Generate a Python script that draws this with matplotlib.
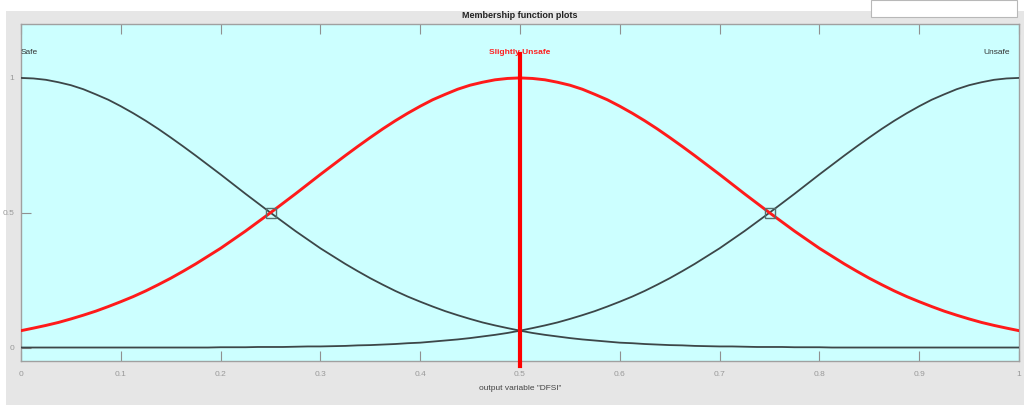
import matplotlib
matplotlib.use("Agg")
import matplotlib.pyplot as plt
from matplotlib.patches import Rectangle

# ---- data (x step 0.0125) ----
x_vals = [i / 80 for i in range(81)]

safe = [1.000, 0.998, 0.993, 0.984, 0.973, 0.958, 0.939, 0.919, 0.895, 0.869,
        0.841, 0.811, 0.779, 0.746, 0.712, 0.677, 0.642, 0.606, 0.570, 0.535,
        0.500, 0.466, 0.432, 0.400, 0.368, 0.339, 0.310, 0.283, 0.257, 0.233,
        0.210, 0.189, 0.170, 0.152, 0.135, 0.120, 0.106, 0.093, 0.082, 0.072,
        0.0625, 0.054, 0.047, 0.041, 0.035, 0.030, 0.026, 0.022, 0.018, 0.016,
        0.013, 0.011, 0.009, 0.008, 0.006, 0.005, 0.004, 0.004, 0.003, 0.002,
        0.002, 0.002, 0.001, 0.001, 0.001, 0.000, 0.000, 0.000, 0.000, 0.000,
        0.000, 0.000, 0.000, 0.000, 0.000, 0.000, 0.000, 0.000, 0.000, 0.000, 0.000]

slightly_unsafe = [0.0625, 0.072, 0.082, 0.093, 0.106, 0.120, 0.135, 0.152, 0.170, 0.189,
                   0.210, 0.233, 0.257, 0.283, 0.310, 0.339, 0.368, 0.400, 0.432, 0.466,
                   0.500, 0.535, 0.570, 0.606, 0.642, 0.677, 0.712, 0.746, 0.779, 0.811,
                   0.841, 0.869, 0.895, 0.919, 0.939, 0.958, 0.973, 0.984, 0.993, 0.998,
                   1.000, 0.998, 0.993, 0.984, 0.973, 0.958, 0.939, 0.919, 0.895, 0.869,
                   0.841, 0.811, 0.779, 0.746, 0.712, 0.677, 0.642, 0.606, 0.570, 0.535,
                   0.500, 0.466, 0.432, 0.400, 0.368, 0.339, 0.310, 0.283, 0.257, 0.233,
                   0.210, 0.189, 0.170, 0.152, 0.135, 0.120, 0.106, 0.093, 0.082, 0.072, 0.0625]

unsafe = [0.000, 0.000, 0.000, 0.000, 0.000, 0.000, 0.000, 0.000, 0.000, 0.000,
          0.000, 0.000, 0.000, 0.000, 0.000, 0.000, 0.001, 0.001, 0.001, 0.002,
          0.002, 0.002, 0.003, 0.004, 0.004, 0.005, 0.006, 0.008, 0.009, 0.011,
          0.013, 0.016, 0.018, 0.022, 0.026, 0.030, 0.035, 0.041, 0.047, 0.054,
          0.0625, 0.072, 0.082, 0.093, 0.106, 0.120, 0.135, 0.152, 0.170, 0.189,
          0.210, 0.233, 0.257, 0.283, 0.310, 0.339, 0.368, 0.400, 0.432, 0.466,
          0.500, 0.535, 0.570, 0.606, 0.642, 0.677, 0.712, 0.746, 0.779, 0.811,
          0.841, 0.869, 0.895, 0.919, 0.939, 0.958, 0.973, 0.984, 0.993, 0.998, 1.000]

mf_names = ["Safe", "Slightly Unsafe", "Unsafe"]
mf_centers = [0.0, 0.5, 1.0]
cross_x = [0.25, 0.75]
cross_y = [0.5, 0.5]
selected_x = 0.5
x_ticks = [0, 0.1, 0.2, 0.3, 0.4, 0.5, 0.6, 0.7, 0.8, 0.9, 1]
x_tick_labels = ["0", "0.1", "0.2", "0.3", "0.4", "0.5", "0.6", "0.7", "0.8", "0.9", "1"]
y_ticks = [0, 0.5, 1]
y_tick_labels = ["0", "0.5", "1"]

# ---- figure ----
W, H = 1024, 405
plt.rcParams['font.family'] = ['Liberation Sans', 'DejaVu Sans']
fig = plt.figure(figsize=(W / 100, H / 100), dpi=100, facecolor="white")

# gray panel
fig.patches.append(Rectangle((6 / W, 0), 1 - 6 / W, 1 - 11 / H, transform=fig.transFigure,
                             facecolor="#e6e6e6", edgecolor="none", zorder=-10))
# white box top-right
fig.patches.append(Rectangle((871 / W, 1 - 17 / H), (1017 - 871) / W, 17 / H,
                             transform=fig.transFigure, facecolor="white",
                             edgecolor="#b8b8b8", linewidth=0.8, zorder=-9))
fig.text(520 / W, 1 - 16 / H, "Membership function plots", ha="center", va="center",
         fontsize=6.5, fontweight="bold", color="#222222")

ax = fig.add_axes([21 / W, 1 - 361 / H, (1019 - 21) / W, (361 - 24) / H])
ax.set_zorder(1)
ax.set_facecolor("#ccffff")
ax.set_xlim(0, 1)
ax.set_ylim(-0.05, 1.2)

gray = "#3c4648"
ax.plot(x_vals, safe, color=gray, lw=1.3, zorder=3)
ax.plot(x_vals, unsafe, color=gray, lw=1.3, zorder=3)
ax.plot(x_vals, slightly_unsafe, color="#ff1a1a", lw=2.1, zorder=4)

ax.plot(cross_x, cross_y, linestyle="none", marker="s", markersize=7,
        markerfacecolor="none", markeredgecolor="#55706f", markeredgewidth=1.0, zorder=5)

# selected line
ax.plot([selected_x, selected_x], [-0.07, 1.09], color="#ff0000", lw=3,
        clip_on=False, zorder=6)

# MF labels
label_y = 1.093
ax.text(mf_centers[0], label_y, mf_names[0], ha="left", va="center", fontsize=6,
        color="#333333")
ax.text(mf_centers[1], label_y, mf_names[1], ha="center", va="center", fontsize=6,
        color="#ff2020", fontweight="bold")
ax.text(mf_centers[2] - 0.009, label_y, mf_names[2], ha="right", va="center", fontsize=6,
        color="#333333")

ax.set_xticks(x_ticks)
ax.set_xticklabels(x_tick_labels)
ax.set_yticks(y_ticks)
ax.set_yticklabels(y_tick_labels)
ax.tick_params(axis="both", direction="in", length=7.5, width=0.8, color="#909090",
               labelsize=6, labelcolor="#999999", top=True, pad=7)
ax.tick_params(axis="y", pad=5)
for s in ax.spines.values():
    s.set_color("#a0a0a0")
    s.set_linewidth(1.0)

fig.text(520 / W, 1 - 388 / H, 'output variable "DFSI"', ha="center", va="center",
         fontsize=6, color="#444444")

fig.savefig("out.png", dpi=100, facecolor=fig.get_facecolor())
